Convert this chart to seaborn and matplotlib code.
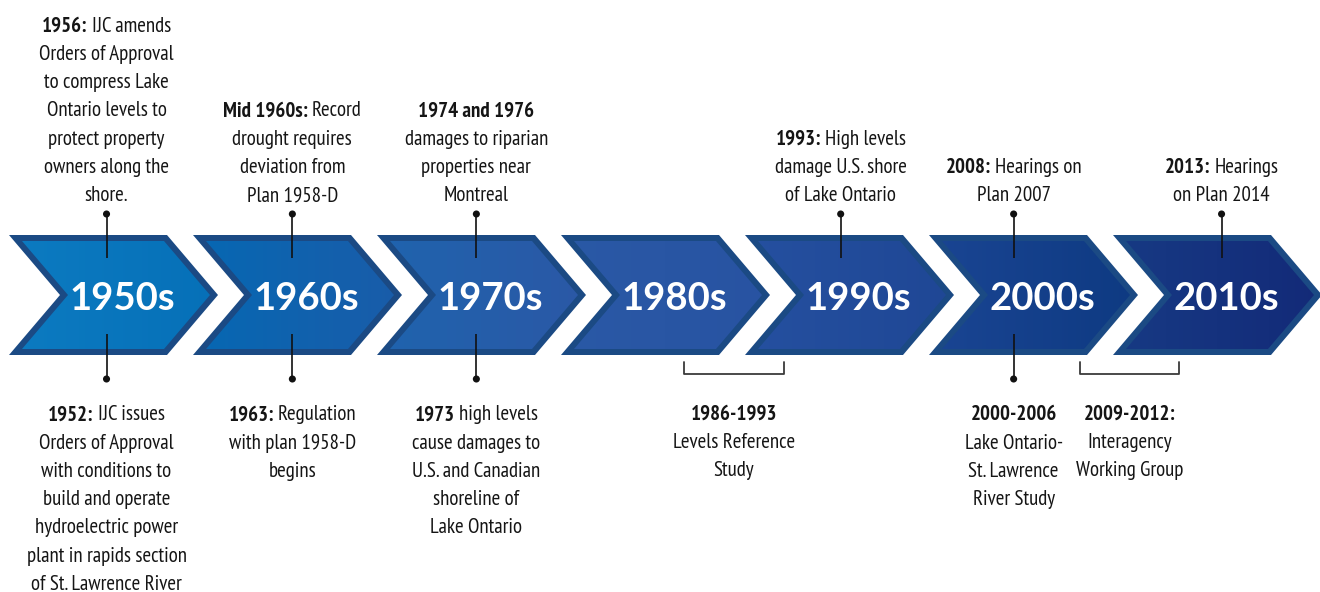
import numpy as np
import pandas as pd
import matplotlib.pyplot as plt
from matplotlib.patches import Polygon
from matplotlib.colors import to_rgb
import seaborn as sns

# ---------------------------------
# DATA
# ---------------------------------
decades = ["1950s", "1960s", "1970s", "1980s", "1990s", "2000s", "2010s"]

# events above the ribbon (position in decades after 1950)
top_pos = [0.53, 1.54, 2.54, 4.52, 5.46, 6.59]
top_heads = ["1956:", "Mid 1960s:", "1974 and 1976", "1993:", "2008:", "2013:"]
top_texts = [
    ["IJC amends", "Orders of Approval", "to compress Lake", "Ontario levels to",
     "protect property", "owners along the", "shore."],
    ["Record", "drought requires", "deviation from", "Plan 1958-D"],
    ["", "damages to riparian", "properties near", "Montreal"],
    ["High levels", "damage U.S. shore", "of Lake Ontario"],
    ["Hearings on", "Plan 2007"],
    ["Hearings", "on Plan 2014"],
]

# events below the ribbon
bottom_pos = [0.53, 1.54, 2.54, 5.46]
bottom_heads = ["1952:", "1963:", "1973", "2000-2006"]
bottom_texts = [
    ["IJC issues", "Orders of Approval", "with conditions to", "build and operate",
     "hydroelectric power", "plant in rapids section", "of St. Lawrence River"],
    ["Regulation", "with plan 1958-D", "begins"],
    ["high levels", "cause damages to", "U.S. and Canadian", "shoreline of",
     "Lake Ontario"],
    ["", "Lake Ontario-", "St. Lawrence", "River Study"],
]

# study periods shown with brackets
span_start = [3.67, 5.82]
span_end = [4.21, 6.36]
span_heads = ["1986-1993", "2009-2012:"]
span_texts = [["", "Levels Reference", "Study"], ["", "Interagency", "Working Group"]]

# ---------------------------------
# STYLE
# ---------------------------------
PX = 184.0   # pixels per decade
X0 = 9.0     # left edge of first chevron
left_cols = ["#0c7bc1", "#0668b3", "#1f64ae", "#2a59a6", "#2550a0", "#1a4593", "#173a84"]
right_cols = ["#0670b8", "#1a5ca9", "#2b58a6", "#2853a2", "#1f4795", "#0e3a82", "#132a78"]
edge_col = "#1b4a84"
text_col = "#151515"
FS = 15
LINE = 28.2

sns.set_theme(style="white")
plt.rcParams["font.family"] = ["PT Sans Narrow", "Roboto Condensed", "DejaVu Sans"]

fig = plt.figure(figsize=(13.2, 5.92), dpi=100)
ax = fig.add_axes([0, 0, 1, 1])
renderer = fig.canvas.get_renderer()


def px(v):
    return v / PX


# ---------------------------------
# CHEVRONS
# ---------------------------------
for i, label in enumerate(decades):
    outer = [(i, 235), (i + px(158), 235), (i + px(209), 295),
             (i + px(158), 355), (i, 355), (i + px(51), 295)]
    inner = [(i + px(13), 241), (i + px(155), 241), (i + px(201), 295),
             (i + px(155), 349), (i + px(13), 349), (i + px(59), 295)]
    ax.add_patch(Polygon(outer, closed=True, facecolor=edge_col, edgecolor="none", zorder=1))
    clip = Polygon(inner, closed=True, facecolor="none", edgecolor="none", zorder=2)
    ax.add_patch(clip)
    c0 = np.array(to_rgb(left_cols[i]))
    c1 = np.array(to_rgb(right_cols[i]))
    t = np.linspace(0, 1, 200)[:, None]
    grad = (c0 * (1 - t) + c1 * t)[None, :, :]
    im = ax.imshow(grad, extent=(i, i + px(209), 355, 235), aspect="auto",
                   interpolation="bilinear", zorder=2)
    im.set_clip_path(clip)
    ax.text(i + px(113), 309.5, label, color="white", fontsize=27.5, fontweight="bold",
            family=["Lato", "DejaVu Sans"], ha="center", va="baseline", zorder=4)


# ---------------------------------
# TEXT BLOCKS
# ---------------------------------
def draw_line(x, y, head, rest):
    if not head:
        ax.text(x, y, rest, fontsize=FS, color=text_col, ha="center", va="baseline")
        return
    tb = ax.text(x, y, head, fontsize=FS, color=text_col, fontweight="bold",
                 ha="left", va="baseline")
    wb = px(tb.get_window_extent(renderer).width)
    if not rest:
        tb.set_x(x - wb / 2)
        return
    tr = ax.text(x, y, rest, fontsize=FS, color=text_col, ha="left", va="baseline")
    wr = px(tr.get_window_extent(renderer).width)
    gap = px(4)
    start = x - (wb + gap + wr) / 2
    tb.set_x(start)
    tr.set_x(start + wb + gap)


def draw_block(x, y_first, head, lines):
    for k, ln in enumerate(lines):
        y = y_first + k * LINE
        if k == 0:
            draw_line(x, y, head, ln)
        else:
            draw_line(x, y, None, ln)


for pos, head, lines in zip(top_pos, top_heads, top_texts):
    draw_block(pos, 201 - (len(lines) - 1) * LINE, head, lines)

for pos, head, lines in zip(bottom_pos, bottom_heads, bottom_texts):
    draw_block(pos, 420.5, head, lines)

for s, e, head, lines in zip(span_start, span_end, span_heads, span_texts):
    ax.plot([s, s, e, e], [362, 374, 374, 362], color="#3a3a3a", lw=1.3, zorder=3)
    draw_block((s + e) / 2, 420, head, lines)

# ---------------------------------
# CONNECTORS
# ---------------------------------
ax.vlines(top_pos, 214, 258, color="#111111", lw=1.2, zorder=3)
ax.vlines(bottom_pos, 334, 379, color="#111111", lw=1.2, zorder=3)
dots = pd.DataFrame({
    "x": top_pos + bottom_pos,
    "y": [214] * len(top_pos) + [379] * len(bottom_pos),
})
sns.scatterplot(data=dots, x="x", y="y", color="#111111", s=26, edgecolor="none",
                legend=False, ax=ax, zorder=5)

ax.set_xlim(-px(X0), px(1320 - X0))
ax.set_ylim(592, 0)
ax.axis("off")

plt.savefig("out.png", dpi=100)
plt.close()
